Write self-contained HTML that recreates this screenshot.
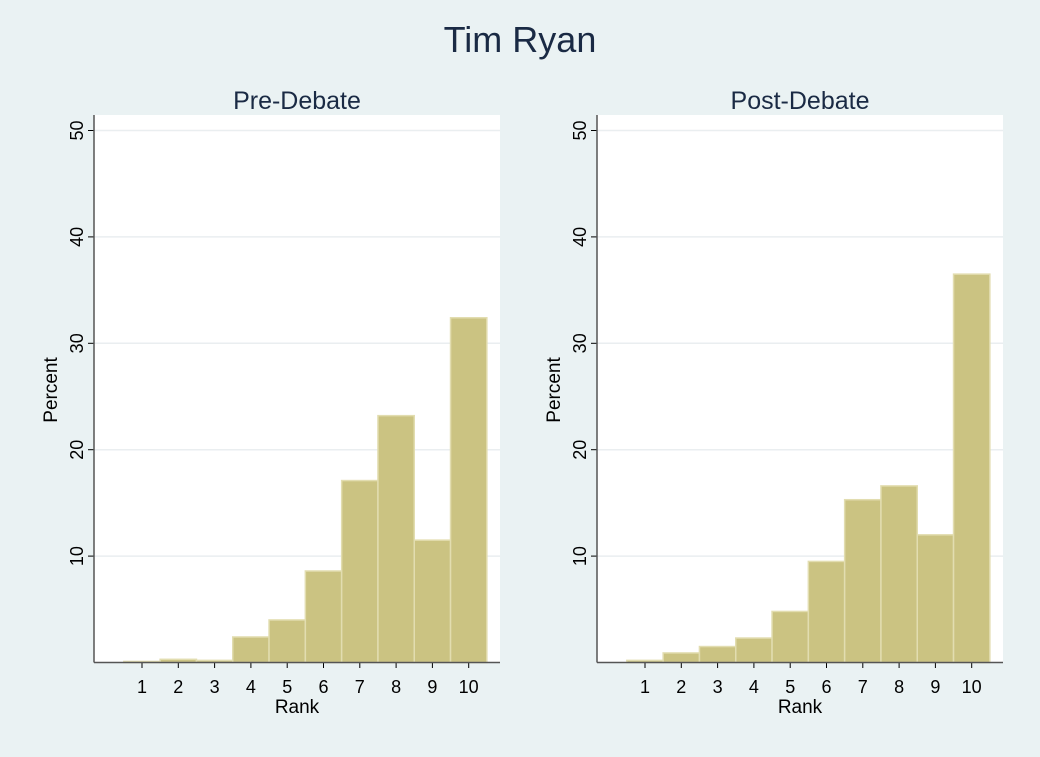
<!DOCTYPE html>
<html><head><meta charset="utf-8"><style>
body{margin:0;background:#eaf2f3;font-family:"Liberation Sans",sans-serif}
svg{display:block}
</style></head><body>
<svg id="c" width="1040" height="757">
<rect width="1040" height="757" fill="#eaf2f3"/>
<text x="520" y="52" font-size="36" text-anchor="middle" fill="#1a2a44">Tim Ryan</text>
</svg>
<script>
const categories=[1,2,3,4,5,6,7,8,9,10];
const preValues=[0.1,0.3,0.2,2.4,4.0,8.6,17.1,23.2,11.5,32.4];
const postValues=[0.2,0.9,1.5,2.3,4.8,9.5,15.3,16.6,12.0,36.5];
const yTicks=[10,20,30,40,50];
const panelTitles=["Pre-Debate","Post-Debate"];
const svg=document.getElementById('c');
const NS='http://www.w3.org/2000/svg';
function mk(t,a,p){const e=document.createElementNS(NS,t);for(const k in a)e.setAttribute(k,a[k]);(p||svg).appendChild(e);return e;}
function panel(ox,title,vals,key){
  const g=mk('g',{});
  
  
  const y=v=>662.5-v*10.64;
  const x=v=>ox+48+(v-1)*36.3;
  const bw=36.3;
  const bg=mk('rect',{x:ox,y:115,width:406,height:547,fill:'#fff'},g);
  
  
  const t=mk('text',{x:ox+203,y:109,'font-size':25,'text-anchor':'middle',fill:'#1a2a44'},g);t.textContent=title;
  
  
  yTicks.forEach(v=>{
    const gl=mk('line',{x1:ox,x2:ox+406,y1:y(v),y2:y(v),stroke:'#eaeef0','stroke-width':1.5},g);
    
    
    mk('line',{x1:ox-6,x2:ox,y1:y(v),y2:y(v),stroke:'#000'},g);
    const tl=mk('text',{x:0,y:0,'font-size':18,'text-anchor':'middle',fill:'#000',transform:`translate(${ox-11},${y(v)}) rotate(-90)`},g);tl.textContent=v;
    
    
  });
  vals.forEach((v,i)=>{
    const c=categories[i];
    const b=mk('rect',{x:x(c)-bw/2,y:y(v),width:bw,height:662.5-y(v),fill:'#cbc382',stroke:'#e2ddb0','stroke-width':1.5},g);
    
    
    mk('line',{x1:x(c),x2:x(c),y1:662,y2:668,stroke:'#000'},g);
    const tl=mk('text',{x:x(c),y:693,'font-size':18,'text-anchor':'middle',fill:'#000'},g);tl.textContent=c;
    
    
  });
  mk('line',{x1:ox,x2:ox,y1:115,y2:662.5,stroke:'#555','stroke-width':1.5},g);
  mk('line',{x1:ox,x2:ox+406,y1:662.5,y2:662.5,stroke:'#555','stroke-width':1.5},g);
  const xt=mk('text',{x:ox+203,y:713,'font-size':19,'text-anchor':'middle',fill:'#000'},g);xt.textContent='Rank';
  
  
  const yt=mk('text',{x:0,y:0,'font-size':19,'text-anchor':'middle',fill:'#000',transform:`translate(${ox-37},390) rotate(-90)`},g);yt.textContent='Percent';
  
  
}
panel(94,panelTitles[0],preValues,'pre-debate');
panel(597,panelTitles[1],postValues,'post-debate');
</script>
</body></html>
